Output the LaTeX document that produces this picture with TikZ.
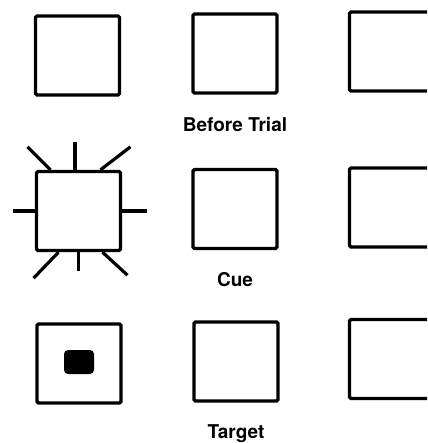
\documentclass[tikz,border=0pt]{standalone}
\usepackage{fontspec}
\setmainfont{TeX Gyre Heros}
\usepackage{tikz}
\usetikzlibrary{positioning}

\begin{document}
\begin{tikzpicture}[
  x=1pt,y=-1pt,
  node distance=22pt,
  screen/.style={draw=black,line width=3.4pt,rounded corners=1.5pt,minimum width=84pt,minimum height=79pt,inner sep=0pt},
  ray/.style={draw=black,line width=3.2pt},
  dotbox/.style={fill=black,rounded corners=4pt,minimum width=30pt,minimum height=24pt,inner sep=0pt},
  caption/.style={inner sep=0pt,font=\fontsize{19}{21}\selectfont\bfseries}
]
\useasboundingbox (0,0) rectangle (427,443);
\clip (0,0) rectangle (427,443);
% before trial
\node[screen] (b11) at (77.5,55.5) {};
\node[screen] (b12) at (235,53.5) {};
\node[screen] (b13) at (391.5,51.5) {};
\node[caption,below=of b12] (lbefore) {Before Trial};
% cue
\node[screen] (b21) at (78.5,211) {};
\node[screen] (b22) at (235,209) {};
\node[screen] (b23) at (391.5,207.5) {};
\node[caption,below=of b22] (lcue) {Cue};
\draw[ray] ([xshift=-3.5pt]b21.north) -- ++(0,-28);
\draw[ray] ([xshift=-28pt]b21.north) -- ++(-23,-23);
\draw[ray] ([xshift=22pt]b21.north) -- ++(30,-23);
\draw[ray] (b21.west) -- ++(-22,0);
\draw[ray] (b21.east) -- ++(25,0);
\draw[ray] (b21.south) -- ++(0,19);
\draw[ray] ([xshift=-20pt]b21.south) -- ++(-25,26);
\draw[ray] ([xshift=24pt]b21.south) -- ++(25,23);
% target
\node[screen] (b31) at (79,363.5) {};
\node[screen] (b32) at (236,361.5) {};
\node[screen] (b33) at (391.5,359) {};
\node[dotbox] (tdot) at ([yshift=1.5pt]b31.center) {};
\node[caption,below=of b32] (ltarget) {Target};
\end{tikzpicture}
\end{document}
